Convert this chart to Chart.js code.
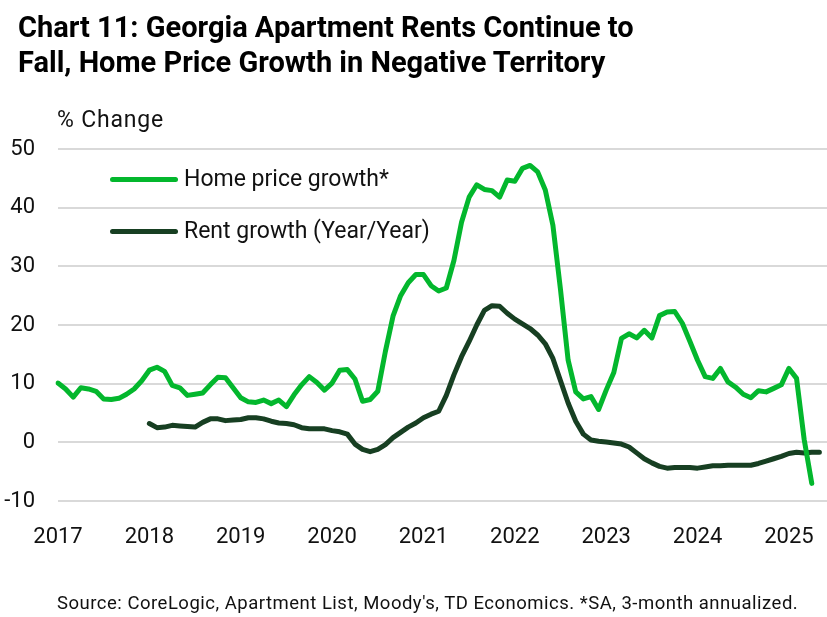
<!DOCTYPE html>
<html>
<head>
<meta charset="utf-8">
<script src="https://cdn.jsdelivr.net/npm/chart.js@4.4.1/dist/chart.umd.min.js"></script>
<style>
  html, body { margin: 0; padding: 0; background: #fff; overflow: hidden; }
  #wrap { position: relative; width: 827px; height: 617px; overflow: hidden; background: #fff; font-family: Roboto, "Noto Sans", sans-serif; color: #111; }
  #title { position: absolute; left: 18px; top: 10px; font-weight: 700; font-size: 29px; line-height: 35px; color: #000; white-space: nowrap; }
  #unit { position: absolute; left: 57px; top: 107px; font-size: 23px; letter-spacing: 0.8px; line-height: 26px; white-space: nowrap; }
  #chartBox { position: absolute; left: 0; top: 0; width: 827px; height: 617px; }
  #legend { position: absolute; left: 110px; top: 166px; }
  .lg { position: absolute; left: 0; white-space: nowrap; font-size: 23px; line-height: 26px; height: 26px; }
  .lg .sw { position: absolute; left: 0; top: 11px; width: 68px; height: 5px; border-radius: 3px; }
  .lg .tx { position: absolute; left: 74px; top: 0; }
  #source { position: absolute; left: 57px; top: 592px; font-size: 18.5px; letter-spacing: 0.5px; line-height: 22px; white-space: nowrap; }
</style>
</head>
<body>
<div id="wrap">
  <div id="chartBox"><canvas id="c"></canvas></div>
  <div id="title">Chart 11: Georgia Apartment Rents Continue to<br>Fall, Home Price Growth in Negative Territory</div>
  <div id="unit">% Change</div>
  <div id="legend"></div>
  <div id="source">Source: CoreLogic, Apartment List, Moody's, TD Economics. *SA, 3-month annualized.</div>
</div>
<script>
// ---- Data (monthly) ----
const years = [2017, 2018, 2019, 2020, 2021, 2022, 2023, 2024, 2025];
const lastMonthOfAxis = "2025-06";

// Home price growth*, SA 3-month annualized, Jan 2017 - Apr 2025
const homePrice = [
  10.1, 9.1, 7.7, 9.3, 9.1, 8.7, 7.4, 7.3, 7.5, 8.2, 9.1, 10.5,
  12.3, 12.8, 12.1, 9.7, 9.3, 8.0, 8.2, 8.4, 9.8, 11.1, 11.0, 9.3,
  7.6, 6.9, 6.8, 7.2, 6.6, 7.2, 6.1, 8.1, 9.8, 11.2, 10.2, 8.9,
  10.1, 12.3, 12.4, 10.8, 7.0, 7.3, 8.7, 15.5, 21.5, 25.0, 27.2, 28.6,
  28.6, 26.7, 25.8, 26.3, 31.0, 37.5, 41.8, 43.9, 43.1, 42.9, 41.8, 44.7,
  44.5, 46.7, 47.2, 46.1, 43.0, 37.0, 26.0, 14.0, 8.6, 7.4, 7.8, 5.6,
  8.9, 11.9, 17.7, 18.5, 17.8, 19.1, 17.8, 21.6, 22.2, 22.3, 20.3, 17.2,
  14.0, 11.2, 10.9, 12.6, 10.3, 9.4, 8.2, 7.6, 8.8, 8.6, 9.2, 9.8,
  12.6, 10.9, 0.5, -7.0
];
const homeStart = "2017-01";

// Rent growth (Year/Year), Jan 2018 - May 2025
const rentGrowth = [
  3.2, 2.5, 2.6, 2.9, 2.8, 2.7, 2.6, 3.4, 4.0, 4.0, 3.7, 3.8,
  3.9, 4.2, 4.2, 4.0, 3.6, 3.3, 3.2, 3.0, 2.5, 2.3, 2.3, 2.3,
  2.0, 1.8, 1.4, -0.3, -1.2, -1.6, -1.2, -0.4, 0.8, 1.7, 2.6, 3.3,
  4.2, 4.8, 5.3, 8.0, 11.5, 14.6, 17.2, 20.0, 22.5, 23.3, 23.2, 22.0,
  21.0, 20.2, 19.4, 18.3, 16.8, 14.3, 10.5, 6.7, 3.6, 1.4, 0.4, 0.2,
  0.05, -0.1, -0.3, -0.8, -1.8, -2.8, -3.5, -4.1, -4.4, -4.3, -4.3, -4.3,
  -4.4, -4.2, -4.0, -4.0, -3.9, -3.9, -3.9, -3.9, -3.6, -3.2, -2.8, -2.4,
  -1.9, -1.7, -1.8, -1.7, -1.7
];
const rentStart = "2018-01";

const yTicks = [-10, 0, 10, 20, 30, 40, 50];
const seriesNames = ["Home price growth*", "Rent growth (Year/Year)"];
const seriesColors = ["#03B72D", "#173F22"];

// ---- Build monthly categories ----
const months = [];
outer: for (const y of years) {
  for (let m = 1; m <= 12; m++) {
    const key = y + "-" + String(m).padStart(2, "0");
    months.push(key);
    if (key === lastMonthOfAxis) break outer;
  }
}
function align(values, startKey) {
  const out = months.map(() => null);
  const s = months.indexOf(startKey);
  values.forEach((v, i) => { if (s + i < out.length) out[s + i] = v; });
  return out;
}

const ctx = document.getElementById("c");
const chart = new Chart(ctx, {
  type: "line",
  data: {
    labels: months,
    datasets: [
      { label: seriesNames[0], data: align(homePrice, homeStart), borderColor: seriesColors[0], backgroundColor: seriesColors[0],
        borderWidth: 5, pointRadius: 0, tension: 0, borderJoinStyle: "round", borderCapStyle: "round", spanGaps: false },
      { label: seriesNames[1], data: align(rentGrowth, rentStart), borderColor: seriesColors[1], backgroundColor: seriesColors[1],
        borderWidth: 5, pointRadius: 0, tension: 0, borderJoinStyle: "round", borderCapStyle: "round", spanGaps: false }
    ]
  },
  options: {
    responsive: true,
    maintainAspectRatio: false,
    animation: false,
    devicePixelRatio: 1,
    layout: { padding: { top: 149, right: 0, bottom: 0, left: 0 } },
    plugins: { legend: { display: false }, tooltip: { enabled: false }, title: { display: false } },
    scales: {
      x: {
        type: "category",
        offset: false,
        grid: { display: false, drawTicks: false },
        border: { display: false },
        ticks: {
          autoSkip: false, maxRotation: 0, minRotation: 0, padding: 23,
          color: "#111", font: { family: "Roboto", size: 22 },
          callback: function (val) {
            const l = this.getLabelForValue(val);
            return l.endsWith("-01") ? l.slice(0, 4) : "";
          }
        },
        afterFit: (s) => { s.height = 116; s.paddingLeft = 0; s.paddingRight = 0; }
      },
      y: {
        min: yTicks[0], max: yTicks[yTicks.length - 1],
        afterBuildTicks: (s) => { s.ticks = yTicks.map(v => ({ value: v })); },
        grid: { color: "#D9D9D9", lineWidth: 2, drawTicks: false },
        border: { display: false },
        ticks: { padding: 23, color: "#111", font: { family: "Roboto", size: 22 } },
        afterFit: (s) => { s.width = 58; }
      }
    }
  }
});

// HTML legend from the chart's datasets
const lg = document.getElementById("legend");
chart.data.datasets.forEach((ds, i) => {
  const row = document.createElement("div");
  row.className = "lg";
  row.style.top = (i * 52) + "px";
  row.innerHTML = '<span class="sw" style="background:' + ds.borderColor + '"></span><span class="tx"></span>';
  row.querySelector(".tx").textContent = ds.label;
  lg.appendChild(row);
});
</script>
</body>
</html>
